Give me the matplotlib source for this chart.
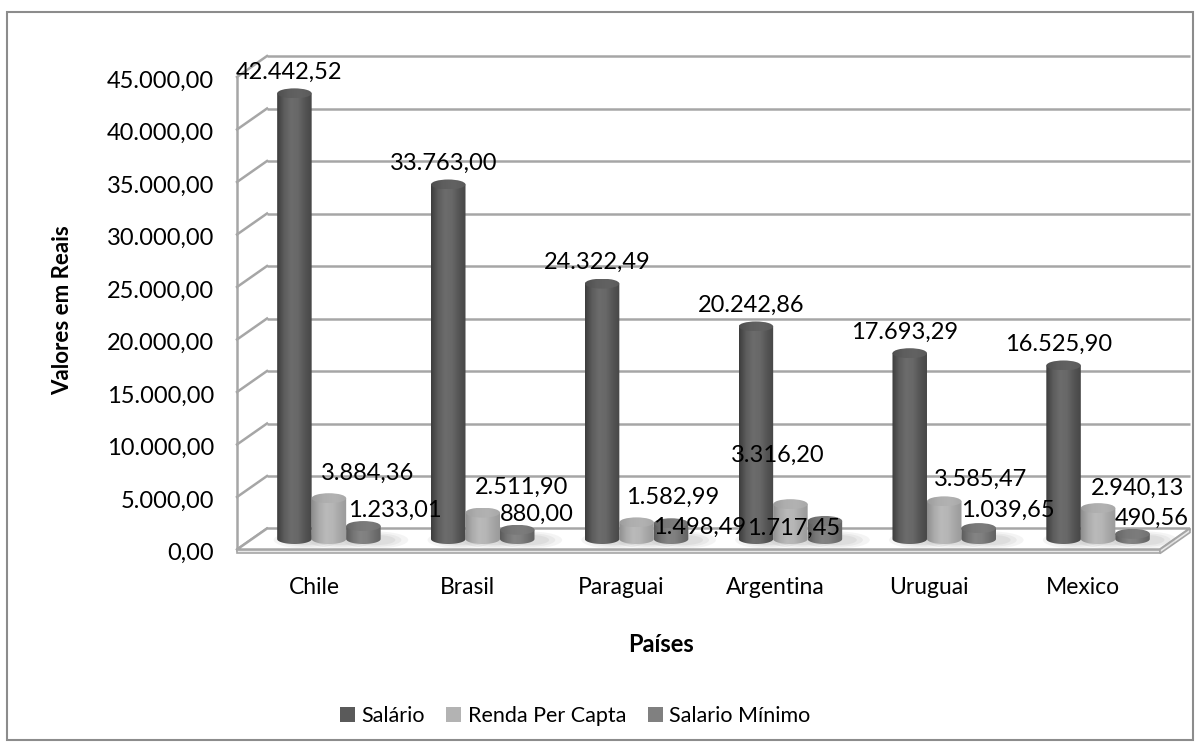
import numpy as np
import matplotlib
matplotlib.use("Agg")
import matplotlib.pyplot as plt
from matplotlib.patches import Polygon, Rectangle, Ellipse, PathPatch, Patch
from matplotlib.path import Path
from matplotlib.colors import LinearSegmentedColormap

# ---- data ---------------------------------------------------------------
paises = ["Chile", "Brasil", "Paraguai", "Argentina", "Uruguai", "Mexico"]
salario = [42442.52, 33763.00, 24322.49, 20242.86, 17693.29, 16525.90]
renda_per_capta = [3884.36, 2511.90, 1582.99, 3316.20, 3585.47, 2940.13]
salario_minimo = [1233.01, 880.00, 1498.49, 1717.45, 1039.65, 490.56]
series_nomes = ["Salário", "Renda Per Capta", "Salario Mínimo"]
y_ticks = list(range(0, 45001, 5000))

plt.rcParams['font.family'] = ['Lato', 'DejaVu Sans']

# ---- layout (pixels) ------------------------------------------------------
W, H = 1200, 747
left_px = 252          # left edge of the mid-depth plane
cat_px = 153.83        # width of one category
y0_px = 539            # value 0 on the mid-depth plane (from top)
px_per_unit = 0.0105   # vertical pixels per value unit
ylo, yhi = -1500, 46500

fig = plt.figure(figsize=(W / 100, H / 100), dpi=100)
ax = fig.add_axes([left_px / W,
                   (H - (y0_px - ylo * px_per_unit)) / H,
                   6 * cat_px / W,
                   (yhi - ylo) * px_per_unit / H])
ax.set_xlim(-0.5, 5.5)
ax.set_ylim(ylo, yhi)
ax.axis('off')

# depth offset of the 3-D box, in data units
dx = 15 / cat_px
dy = 10.5 / px_per_unit
grid_c = '#a6a6a6'
grid_lw = 1.8

def fmt_br(v):
    s = f"{v:,.2f}"
    return s.replace(",", "X").replace(".", ",").replace("X", ".")

# ---- walls and floor ----------------------------------------------------
for t in y_ticks:
    ax.plot([-0.5 + dx, 5.5 + dx], [t + dy, t + dy], color=grid_c, lw=grid_lw,
            solid_capstyle='butt', clip_on=False, zorder=1)
    ax.plot([-0.5 - dx, -0.5 + dx], [t - dy, t + dy], color=grid_c, lw=grid_lw,
            clip_on=False, zorder=1)
ax.plot([-0.5 - dx, -0.5 - dx], [-dy, y_ticks[-1] - dy], color=grid_c,
        lw=grid_lw, clip_on=False, zorder=1)

slab = 380
floor = Polygon([(-0.5 - dx, -dy), (5.5 - dx, -dy), (5.5 + dx, dy), (-0.5 + dx, dy)],
                closed=True, facecolor='white', edgecolor=grid_c, lw=grid_lw,
                clip_on=False, zorder=2)
ax.add_patch(floor)
front = Polygon([(-0.5 - dx, -dy), (5.5 - dx, -dy), (5.5 - dx, -dy - slab),
                 (-0.5 - dx, -dy - slab)], closed=True, facecolor='#e8e8e8',
                edgecolor=grid_c, lw=1.2, clip_on=False, zorder=2)
ax.add_patch(front)
side = Polygon([(5.5 - dx, -dy), (5.5 + dx, dy), (5.5 + dx, dy - slab),
                (5.5 - dx, -dy - slab)], closed=True, facecolor='#e8e8e8',
               edgecolor=grid_c, lw=1.2, clip_on=False, zorder=2)
ax.add_patch(side)

# ---- cylinders ------------------------------------------------------------
body_cmaps = [
    LinearSegmentedColormap.from_list('sal', ['#3c3c3c', '#5c5c5c', '#6c6c6c', '#686868', '#555555', '#464646']),
    LinearSegmentedColormap.from_list('ren', ['#8e8e8e', '#aaaaaa', '#bababa', '#b6b6b6', '#a6a6a6', '#9a9a9a']),
    LinearSegmentedColormap.from_list('min', ['#5a5a5a', '#747474', '#848484', '#808080', '#707070', '#626262']),
]
top_cmaps = [
    LinearSegmentedColormap.from_list('salt', ['#4e4e4e', '#5e5e5e', '#626262', '#5a5a5a']),
    LinearSegmentedColormap.from_list('rent', ['#9c9c9c', '#aeaeae', '#b2b2b2', '#a8a8a8']),
    LinearSegmentedColormap.from_list('mint', ['#666666', '#787878', '#7c7c7c', '#727272']),
]
legend_colors = ['#5a5a5a', '#b3b3b3', '#808080']

w = 34.5 / cat_px
ry = 5.0 / px_per_unit
grad = np.linspace(0, 1, 256).reshape(1, -1)

def cylinder(xc, v, k, z):
    x0, x1 = xc - w / 2, xc + w / 2
    th = np.linspace(np.pi, 2 * np.pi, 60)
    bottom = np.column_stack([xc + w / 2 * np.cos(th), ry * np.sin(th)])
    verts = np.vstack([[x0, v], bottom, [x1, v], [x0, v]])
    codes = [Path.MOVETO] + [Path.LINETO] * (len(verts) - 2) + [Path.CLOSEPOLY]
    body = PathPatch(Path(verts, codes), facecolor='none', edgecolor='none', zorder=z)
    ax.add_patch(body)
    im = ax.imshow(grad, cmap=body_cmaps[k], extent=(x0, x1, -ry, v),
                   aspect='auto', interpolation='bilinear', zorder=z)
    im.set_clip_path(body)
    top = Ellipse((xc, v), w, 2 * ry, facecolor='none', edgecolor='none', zorder=z + 0.1)
    ax.add_patch(top)
    imt = ax.imshow(grad, cmap=top_cmaps[k], extent=(x0, x1, v - ry, v + ry),
                    aspect='auto', interpolation='bilinear', zorder=z + 0.1)
    imt.set_clip_path(top)

# soft floor shadows
def shadow(xc, z):
    for s, a in [(1.9, 0.10), (1.5, 0.12), (1.15, 0.14)]:
        e = Ellipse((xc + w * 0.35, -ry * 0.2), w * s, 2 * ry * s * 0.9,
                    facecolor='#9a9a9a', edgecolor='none', alpha=a, zorder=z)
        ax.add_patch(e)

series = [salario, renda_per_capta, salario_minimo]
offsets_series = [-w, 0.0, w]

for i in range(len(paises)):
    for k in range(3):
        shadow(i + offsets_series[k], 2.5)
for i in range(len(paises)):
    for k in range(3):
        cylinder(i + offsets_series[k], series[k][i], k, 3 + k * 0.2 + i * 0.01)

ax.set_xlim(-0.5, 5.5)
ax.set_ylim(ylo, yhi)

# ---- value labels (offsets in pixels from the top of each cylinder) -------
label_offsets = [
    [(-5, 21)] * 6,
    [(39, 25), (39, 25), (36, 25), (-13, 49), (36, 22), (39, 20)],
    [(31, 16), (20, 15), (29, -4), (-31, -7), (29, 18), (19, 16)],
]
for k in range(3):
    for i in range(len(paises)):
        v = series[k][i]
        ox, oy = label_offsets[k][i]
        ax.annotate(fmt_br(v), xy=(i + offsets_series[k], v), xytext=(ox, oy),
                    textcoords='offset pixels', ha='center', va='center',
                    fontsize=17, color='black', zorder=10, annotation_clip=False)

# ---- value axis labels (front plane) --------------------------------------
for t in y_ticks:
    ax.annotate(fmt_br(t), xy=(-0.5 - dx, t - dy), xytext=(-23, -4),
                textcoords='offset pixels', ha='right', va='center',
                fontsize=17, color='black', annotation_clip=False)

# ---- category labels -----------------------------------------------------
for i, p in enumerate(paises):
    ax.annotate(p, xy=(i - dx, H - 588), xycoords=('data', 'figure pixels'),
                ha='center', va='center', fontsize=16.5, color='black')

fig.text(63 / W, 1 - 310 / H, "Valores em Reais", rotation=90, ha='center',
         va='center', fontsize=16, fontweight='bold')
fig.text(661 / W, 1 - 645 / H, "Países", ha='center', va='center',
         fontsize=17, fontweight='bold')

handles = [Patch(facecolor=c, edgecolor='none') for c in legend_colors]
fig.legend(handles, series_nomes, loc='center', bbox_to_anchor=(575 / W, 1 - 716 / H),
           ncol=3, frameon=False, fontsize=15.5, handlelength=0.7, handleheight=0.7,
           handletextpad=0.3, columnspacing=1.0)

# outer chart frame
fig.patches.append(Rectangle((7 / W, 7 / H), 1186 / W, 1 - 19 / H,
                             transform=fig.transFigure, fill=False,
                             edgecolor='#8c8c8c', lw=1.5))

fig.savefig("out.png", dpi=100)
